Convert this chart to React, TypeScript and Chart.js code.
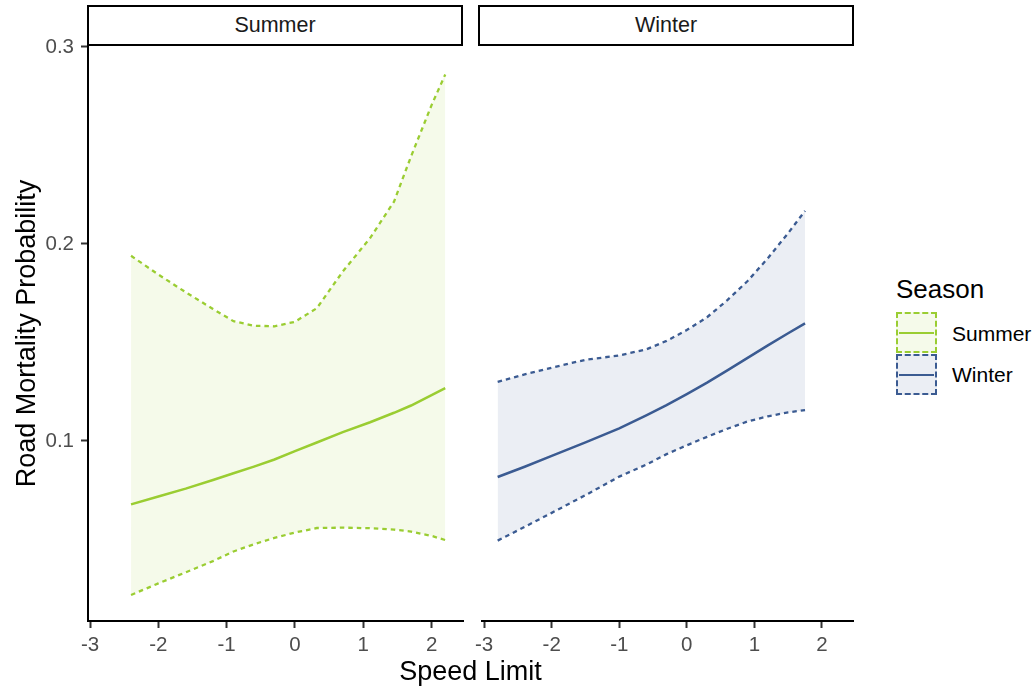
import React, { useEffect, useRef } from "react";
import { Chart, registerables } from "chart.js";

Chart.register(...registerables);

// ---- data ----
const X_TICKS = [-3, -2, -1, 0, 1, 2];
const Y_TICKS = [0.1, 0.2, 0.3];
const X_MIN = -3.03;
const X_MAX = 2.46;
const Y_MIN = 0.0086;
const Y_MAX = 0.3005;

const SEASONS = ["Summer", "Winter"];

const summerX = [-2.4, -2.0, -1.6, -1.2, -0.9, -0.6, -0.3, 0.0, 0.32, 0.7, 1.1, 1.45, 1.7, 2.0, 2.2];
const summerFit = [0.0678, 0.0718, 0.0758, 0.0802, 0.0836, 0.087, 0.0906, 0.0948, 0.0992, 0.1045, 0.1095, 0.1143, 0.118, 0.1233, 0.1268];
const summerUpper = [0.194, 0.1845, 0.1755, 0.167, 0.1608, 0.1585, 0.1582, 0.1605, 0.1674, 0.186, 0.203, 0.2215, 0.2445, 0.2705, 0.286];
const summerLower = [0.0218, 0.0277, 0.0333, 0.039, 0.0439, 0.0476, 0.0508, 0.0535, 0.0558, 0.056, 0.0557, 0.055, 0.054, 0.0518, 0.0497];

const winterX = [-2.8, -2.4, -2.0, -1.5, -1.0, -0.6, -0.3, 0.0, 0.3, 0.6, 0.9, 1.2, 1.5, 1.75];
const winterFit = [0.0817, 0.0869, 0.0924, 0.0993, 0.1064, 0.113, 0.1182, 0.1238, 0.1296, 0.1358, 0.1422, 0.1485, 0.1547, 0.1597];
const winterUpper = [0.13, 0.1338, 0.1372, 0.1412, 0.1434, 0.1465, 0.1508, 0.1563, 0.1628, 0.1715, 0.1812, 0.1928, 0.2055, 0.2168];
const winterLower = [0.0494, 0.0564, 0.0635, 0.0725, 0.0819, 0.088, 0.0933, 0.0978, 0.1021, 0.1062, 0.1099, 0.1125, 0.1145, 0.1157];

const GREEN = "#9ACD32";
const GREEN_FILL = "rgba(154,205,50,0.1)";
const BLUE = "#3B5B92";
const BLUE_FILL = "rgba(59,91,146,0.1)";

const FONT = "'Liberation Sans', Arial, Helvetica, sans-serif";

const toPts = (xs: number[], ys: number[]) => xs.map((x, i) => ({ x, y: ys[i] }));

type PanelProps = {
  xs: number[];
  fit: number[];
  upper: number[];
  lower: number[];
  color: string;
  fill: string;
  showY: boolean;
  left: number;
  width: number;
  padLeft: number;
};

function Panel(props: PanelProps) {
  const ref = useRef<HTMLCanvasElement | null>(null);
  useEffect(() => {
    if (!ref.current) return;
    const chart = new Chart(ref.current, {
      type: "line",
      data: {
        datasets: [
          {
            label: "lower",
            data: toPts(props.xs, props.lower),
            borderColor: props.color,
            borderWidth: 2.3,
            borderDash: [4.5, 4],
            pointRadius: 0,
            fill: false,
            tension: 0,
          },
          {
            label: "upper",
            data: toPts(props.xs, props.upper),
            borderColor: props.color,
            borderWidth: 2.3,
            borderDash: [4.5, 4],
            pointRadius: 0,
            fill: "-1",
            backgroundColor: props.fill,
            tension: 0,
          },
          {
            label: "fit",
            data: toPts(props.xs, props.fit),
            borderColor: props.color,
            borderWidth: 2.5,
            pointRadius: 0,
            fill: false,
            tension: 0,
          },
        ],
      },
      options: {
        responsive: false,
        animation: false,
        events: [],
        layout: { padding: { left: props.padLeft, right: 7, top: 46, bottom: 0 } },
        plugins: {
          legend: { display: false },
          tooltip: { enabled: false },
          filler: { drawTime: "beforeDatasetsDraw" },
        },
        scales: {
          x: {
            type: "linear",
            min: X_MIN,
            max: X_MAX,
            afterBuildTicks: (s: any) => {
              s.ticks = X_TICKS.map((v) => ({ value: v }));
            },
            afterFit: (s: any) => {
              s.height = 67;
            },
            ticks: {
              color: "#4d4d4d",
              font: { family: FONT, size: 20.5 },
              padding: 5,
              maxRotation: 0,
              autoSkip: false,
              callback: (v: any) => String(v),
            },
            grid: { drawOnChartArea: false, tickLength: 7, tickWidth: 2, color: "#333333" },
            border: { display: true, color: "#000000", width: 2 },
          },
          y: {
            type: "linear",
            display: props.showY,
            min: Y_MIN,
            max: Y_MAX,
            afterBuildTicks: (s: any) => {
              s.ticks = Y_TICKS.map((v) => ({ value: v }));
            },
            afterFit: (s: any) => {
              s.width = props.showY ? 88 : 0;
            },
            ticks: {
              color: "#4d4d4d",
              font: { family: FONT, size: 20.5 },
              padding: 7,
              autoSkip: false,
              callback: (v: any) => String(v),
            },
            grid: { drawOnChartArea: false, tickLength: 7, tickWidth: 2, color: "#333333" },
            border: { display: true, color: "#000000", width: 2 },
            title: {
              display: true,
              text: "Road Mortality Probability",
              color: "#000000",
              font: { family: FONT, size: 27 },
              padding: { top: 11, bottom: 0 },
            },
          },
        },
      },
    } as any);
    return () => chart.destroy();
  }, []);
  return (
    <canvas
      ref={ref}
      width={props.width}
      height={688}
      style={{ position: "absolute", left: props.left, top: 0, width: props.width, height: 688, display: "block" }}
    />
  );
}

const stripStyle = (left: number): React.CSSProperties => ({
  position: "absolute",
  left,
  top: 5,
  width: 376,
  height: 41,
  boxSizing: "border-box",
  border: "2px solid #000",
  display: "flex",
  alignItems: "center",
  justifyContent: "center",
  fontFamily: FONT,
  fontSize: 21.5,
  color: "#1a1a1a",
  background: "#fff",
});

const keyStyle = (top: number, color: string, fill: string): React.CSSProperties => ({
  position: "absolute",
  left: 896,
  top,
  width: 41,
  height: 41,
  boxSizing: "border-box",
  border: `2px dashed ${color}`,
  background: fill,
});

const labelStyle = (top: number): React.CSSProperties => ({
  position: "absolute",
  left: 952,
  top,
  lineHeight: "26px",
  fontSize: 21,
  fontFamily: FONT,
  color: "#000",
});

export default function App() {
  return (
    <div style={{ position: "absolute", left: 0, top: 0, width: 1035, height: 688, background: "#fff", overflow: "hidden" }}>
      <Panel xs={summerX} fit={summerFit} upper={summerUpper} lower={summerLower} color={GREEN} fill={GREEN_FILL} showY={true} left={0} width={470} padLeft={0} />
      <Panel xs={winterX} fit={winterFit} upper={winterUpper} lower={winterLower} color={BLUE} fill={BLUE_FILL} showY={false} left={470} width={390} padLeft={7} />
      <div style={stripStyle(87)}>{SEASONS[0]}</div>
      <div style={stripStyle(478)}>{SEASONS[1]}</div>
      <div style={{ position: "absolute", left: 0, width: 941, top: 656, lineHeight: "30px", fontSize: 27, fontFamily: FONT, color: "#000", textAlign: "center" }}>
        Speed Limit
      </div>
      <div style={{ position: "absolute", left: 896, top: 274, lineHeight: "30px", fontSize: 26, fontFamily: FONT, color: "#000" }}>Season</div>
      <div style={keyStyle(312, GREEN, GREEN_FILL)}>
        <div style={{ position: "absolute", left: 1, right: 1, top: 18, height: 2, background: GREEN }} />
      </div>
      <div style={keyStyle(354, BLUE, BLUE_FILL)}>
        <div style={{ position: "absolute", left: 1, right: 1, top: 18, height: 2, background: BLUE }} />
      </div>
      <div style={labelStyle(321)}>{SEASONS[0]}</div>
      <div style={labelStyle(362)}>{SEASONS[1]}</div>
    </div>
  );
}
